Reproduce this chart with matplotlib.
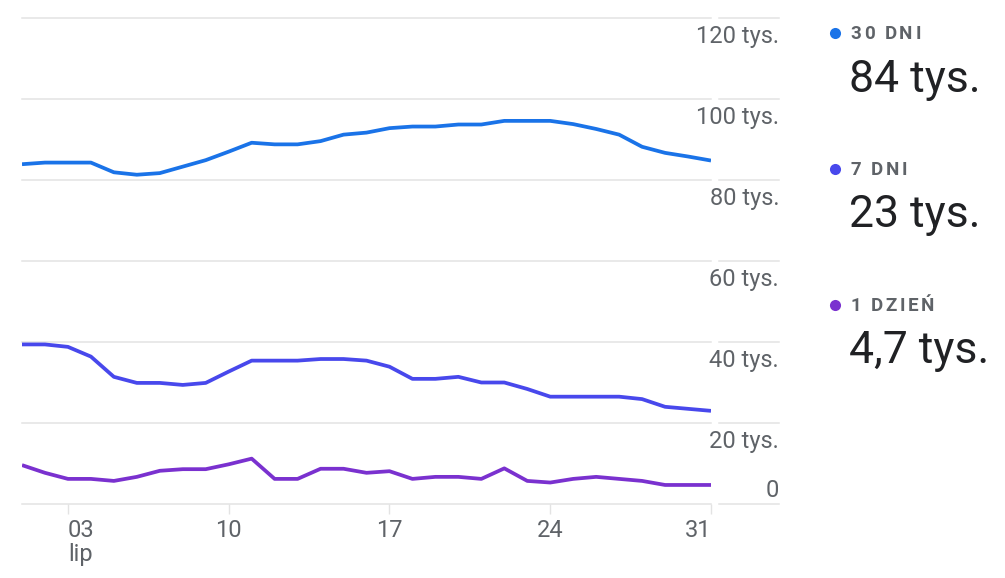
import matplotlib
matplotlib.use("Agg")
import matplotlib.pyplot as plt
import matplotlib.transforms as mtransforms
from matplotlib.lines import Line2D

# ---------------- data (thousands) ----------------
days = list(range(1, 32))  # 1..31 July
series_30 = [83.9, 84.3, 84.3, 84.3, 81.9, 81.3, 81.7, 83.3, 84.9, 87.0,
             89.2, 88.8, 88.8, 89.6, 91.2, 91.7, 92.8, 93.2, 93.2, 93.7,
             93.7, 94.6, 94.6, 94.6, 93.8, 92.6, 91.2, 88.2, 86.7, 85.8, 84.8]
series_7 = [39.4, 39.4, 38.8, 36.4, 31.4, 29.9, 29.9, 29.4, 29.9, 32.7,
            35.4, 35.4, 35.4, 35.8, 35.8, 35.4, 33.9, 30.9, 30.9, 31.4,
            30.0, 30.0, 28.4, 26.5, 26.5, 26.5, 26.5, 25.9, 24.0, 23.5, 23.0]
series_1 = [9.6, 7.7, 6.2, 6.2, 5.7, 6.7, 8.2, 8.6, 8.6, 9.8,
            11.2, 6.2, 6.2, 8.7, 8.7, 7.7, 8.1, 6.2, 6.7, 6.7,
            6.2, 8.8, 5.7, 5.3, 6.2, 6.7, 6.2, 5.7, 4.7, 4.7, 4.7]
series_names = ["30 DNI", "7 DNI", "1 DZIEŃ"]
series_latest = ["84 tys.", "23 tys.", "4,7 tys."]
series_colors = ["#1a73e8", "#4848ec", "#7a31cf"]
x_ticks = [3, 10, 17, 24, 31]
x_ticklabels = ["03\nlip", "10", "17", "24", "31"]
y_ticks = [0, 20, 40, 60, 80, 100, 120]
y_ticklabels = ["0", "20 tys.", "40 tys.", "60 tys.", "80 tys.", "100 tys.", "120 tys."]

# ---------------- figure ----------------
W, H = 1005, 578
fig = plt.figure(figsize=(W / 100, H / 100), dpi=100)
fig.patch.set_facecolor("white")
FONT = "Roboto"
GRID = "#e3e3e3"
TXT = "#5f6368"

def fx(px):
    return px / W

def fy(py):
    return 1 - py / H

ax = fig.add_axes([fx(22), fy(504), fx(711) - fx(22), fy(18) - fy(504)])
ax.set_xlim(1, 31)
ax.set_ylim(0, 120)
for s in ax.spines.values():
    s.set_visible(False)
ax.set_facecolor("none")

# gridlines (plot area) + extension under y labels
ext = mtransforms.blended_transform_factory(fig.transFigure, ax.transData)
for v in y_ticks:
    ax.axhline(v, color=GRID, lw=1.1, zorder=0, clip_on=False)
    ax.add_line(Line2D([fx(719), fx(779)], [v, v], transform=ext, color=GRID,
                       lw=1.1, clip_on=False))

# lines
for vals, col in zip([series_30, series_7, series_1], series_colors):
    ax.plot(days, vals, color=col, lw=2.7, solid_joinstyle="round",
            solid_capstyle="butt", zorder=3)

# x ticks
ax.set_xticks(x_ticks)
ax.set_xticklabels(x_ticklabels, fontsize=17, color=TXT, family=FONT,
                   linespacing=1.05)
ax.tick_params(axis="x", length=7.5, width=1.0, color=GRID, pad=3.3)
labs = ax.get_xticklabels()
labs[0].set_ha("left")
labs[0].set_multialignment("left")
labs[-1].set_ha("right")
ax.set_yticks([])

# y labels (right side, below gridlines; "0" above)
for v, lab in zip(y_ticks, y_ticklabels):
    if v == 0:
        off = mtransforms.ScaledTranslation(0, 7.3 / 100, fig.dpi_scale_trans)
    else:
        off = mtransforms.ScaledTranslation(0, -24.6 / 100, fig.dpi_scale_trans)
    ax.text(fx(779), v, lab, transform=ext + off, ha="right", va="baseline",
            fontsize=17, color=TXT, family=FONT)

# ---------------- legend / summary on the right ----------------
renderer = fig.canvas.get_renderer()

def spaced_text(x_px, y_px, s, spacing_px, **kw):
    x = x_px
    for ch in s:
        if ch == " ":
            x += 0.25 * kw.get("fontsize", 12) * 100 / 72 + spacing_px
            continue
        t = fig.text(fx(x), fy(y_px), ch, ha="left", va="baseline", **kw)
        bb = t.get_window_extent(renderer)
        x += bb.width + spacing_px

block_y = [39.3, 175, 311]
for name, latest, col, by in zip(series_names, series_latest, series_colors, block_y):
    fig.add_artist(Line2D([fx(835)], [fy(by - 6)], marker="o", markersize=8,
                          color=col, markeredgewidth=0, transform=fig.transFigure))
    spaced_text(850.5, by, name, 2.6, fontsize=13.5, color=TXT, family=FONT,
                weight="bold")
    fig.text(fx(849), fy(by + 52.4), latest, ha="left", va="baseline",
             fontsize=32, color="#202124", family=FONT)

fig.savefig("out.png", dpi=100, facecolor="white")
